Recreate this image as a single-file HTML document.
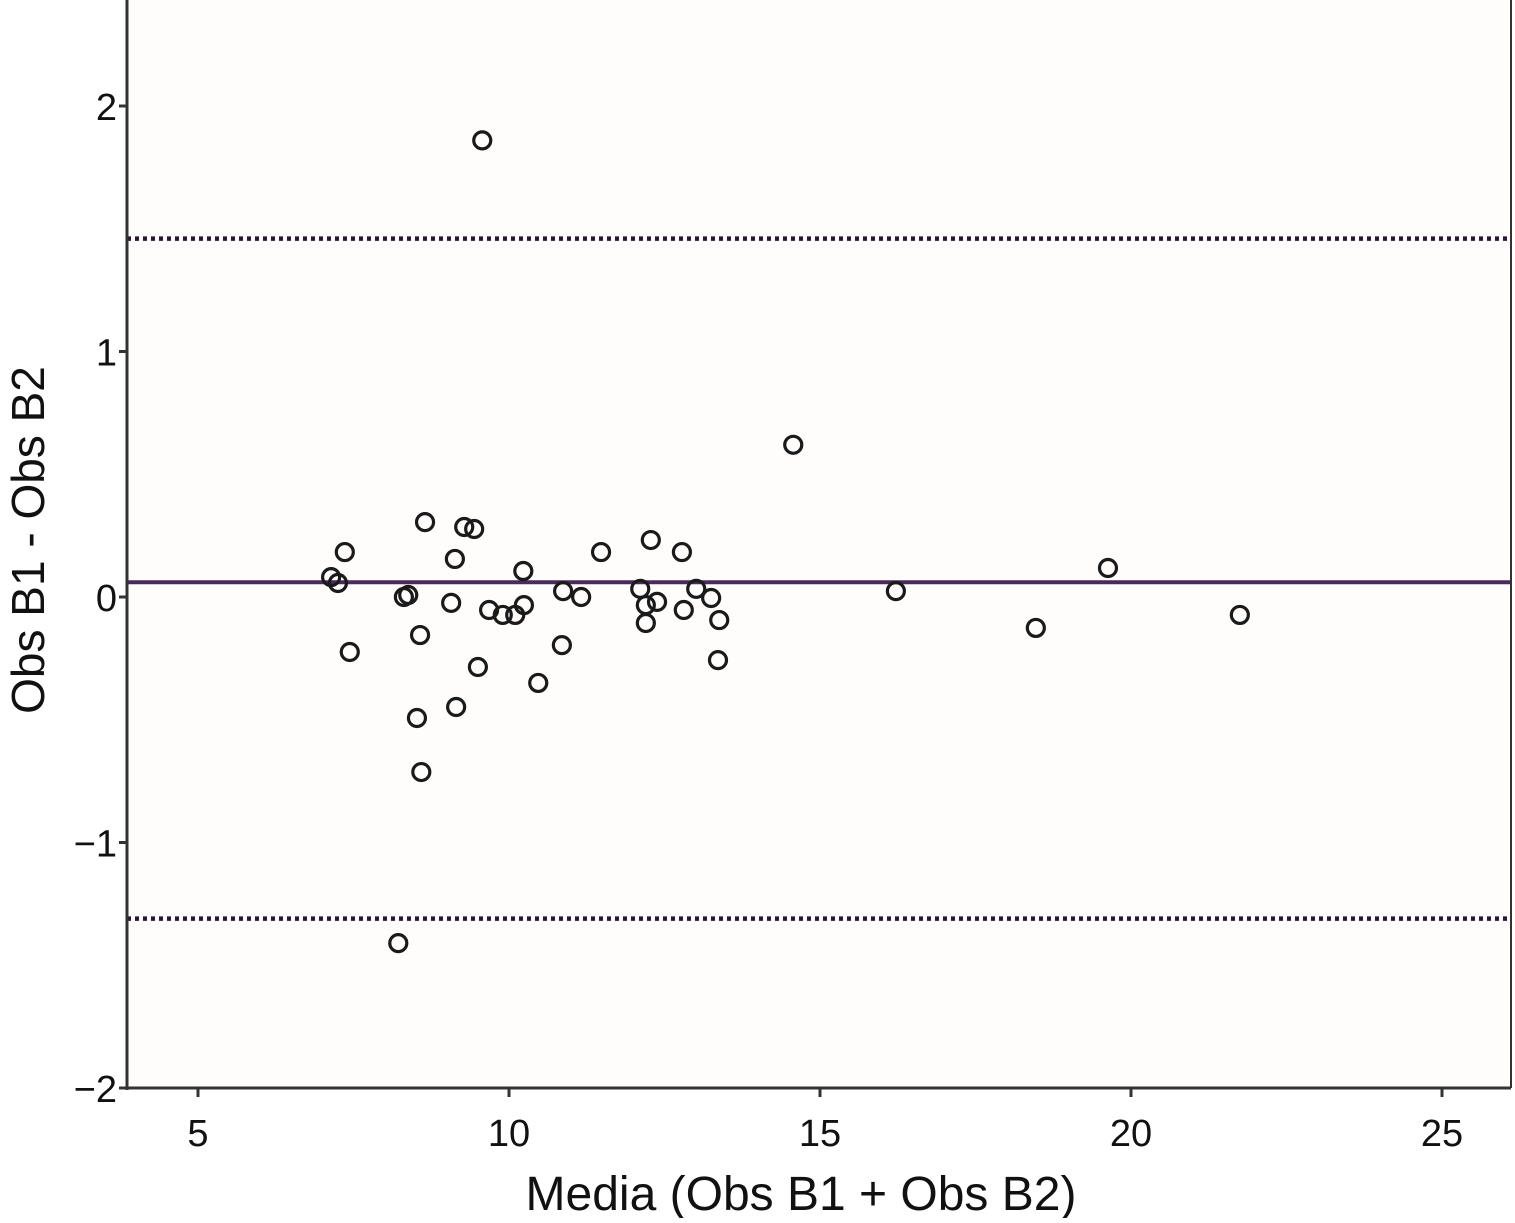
<!DOCTYPE html>
<html><head><meta charset="utf-8"><style>
body{margin:0;background:#fff;}
svg text{font-family:"Liberation Sans",Arial,sans-serif;fill:#111;}
</style></head><body>
<svg id="chart" width="1515" height="1218" viewBox="0 0 1515 1218">
<rect x="127" y="0" width="1384" height="1088" fill="#fefdfc"/>
<g id="marks"></g>
<g id="axes"></g>
</svg>
<script>
const xVals=[7.14,7.25,7.36,7.44,8.31,8.38,8.57,8.52,8.59,8.65,9.13,9.07,9.15,9.28,9.44,9.50,9.68,9.90,10.10,10.24,10.23,10.47,10.87,10.85,11.16,11.48,12.11,12.20,12.28,12.38,12.20,12.78,12.81,13.01,13.25,13.38,13.36,14.57,16.22,18.47,19.63,21.75,9.57,8.22];
const yVals=[0.081,0.057,0.183,-0.224,0,0.008,-0.155,-0.493,-0.713,0.305,0.155,-0.024,-0.448,0.285,0.277,-0.285,-0.053,-0.073,-0.073,-0.033,0.106,-0.350,0.024,-0.196,0,0.183,0.033,-0.033,0.232,-0.020,-0.106,0.183,-0.053,0.033,-0.004,-0.094,-0.257,0.620,0.024,-0.126,0.118,-0.073,1.86,-1.41];
const meanDiff=[0.06];
const limits=[1.46,-1.31];
const xTicks=[5,10,15,20,25];
const yTicks=[2,1,0,-1,-2];
const yTickLabels=["2","1","0","\u22121","\u22122"];
const X0=127,X1=1511,Y0=0,Y1=1088;
const sx=v=>198+(v-5)*62.2;
const sy=v=>597-v*245.5;
const NS="http://www.w3.org/2000/svg";
function mk(tag,attrs,parent){const e=document.createElementNS(NS,tag);for(const k in attrs)e.setAttribute(k,attrs[k]);parent.appendChild(e);return e;}
const marks=document.getElementById('marks'),axes=document.getElementById('axes');
limits.forEach((v,i)=>{const l=mk('line',{x1:X0,x2:X1,y1:sy(v),y2:sy(v),stroke:'#2a1636','stroke-width':4.5,'stroke-dasharray':'4 4'},marks);

});
const m=mk('line',{x1:X0,x2:X1,y1:sy(meanDiff[0]),y2:sy(meanDiff[0]),stroke:'#4a2a5a','stroke-width':4},marks);


xVals.forEach((x,i)=>{const c=mk('circle',{cx:sx(x),cy:sy(yVals[i]),r:8.5,fill:'none',stroke:'#1a1a1a','stroke-width':3.2},marks);

});
mk('line',{x1:X0,x2:X0,y1:Y0,y2:Y1+2,stroke:'#333','stroke-width':3},axes);
mk('line',{x1:X0-2,x2:X1,y1:Y1,y2:Y1,stroke:'#333','stroke-width':3},axes);
mk('line',{x1:X1,x2:X1,y1:Y0,y2:Y1,stroke:'#333','stroke-width':2},axes);
xTicks.forEach(v=>{mk('line',{x1:sx(v),x2:sx(v),y1:Y1,y2:Y1+9,stroke:'#333','stroke-width':3},axes);
const t=mk('text',{x:sx(v),y:Y1+58,'text-anchor':'middle','font-size':38},axes);t.textContent=v;

});
yTicks.forEach((v,i)=>{mk('line',{x1:X0-8,x2:X0,y1:sy(v),y2:sy(v),stroke:'#333','stroke-width':3},axes);
const t=mk('text',{x:X0-10,y:sy(v)+14,'text-anchor':'end','font-size':38},axes);t.textContent=yTickLabels[i];

});
const xt=mk('text',{x:801,y:1210,'text-anchor':'middle','font-size':48},axes);xt.textContent='Media (Obs B1 + Obs B2)';


const yt=mk('text',{x:0,y:0,'text-anchor':'middle','font-size':46,transform:'translate(44,540) rotate(-90)'},axes);yt.textContent='Obs B1 - Obs B2';


</script>
</body></html>
